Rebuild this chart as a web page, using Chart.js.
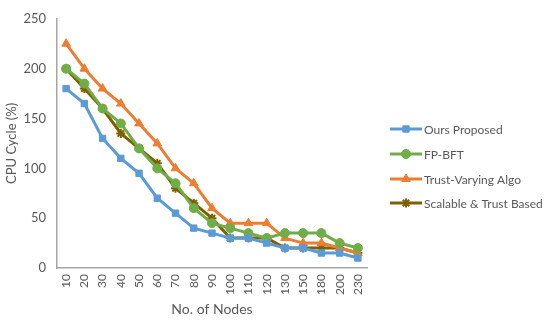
<!DOCTYPE html>
<html lang="en">
<head>
  <meta charset="UTF-8">
  <title>CPU Cycle vs Nodes</title>
  <script src="https://cdn.jsdelivr.net/npm/chart.js"></script>
  <style>
    body { margin: 0; background: #fff; }
    #wrap { width: 550px; height: 322px; }
  </style>
</head>
<body>
  <div id="wrap"><canvas id="cpuChart" width="550" height="322"></canvas></div>

  <script>
    // data
    const nodes = ['10', '20', '30', '40', '50', '60', '70', '80', '90', '100', '110', '120', '130', '150', '180', '200', '230'];
    const oursProposed = [180, 165, 130, 110, 95, 70, 55, 40, 35, 30, 30, 25, 20, 20, 15, 15, 10];
    const fpBft = [200, 185, 160, 145, 120, 100, 85, 60, 45, 40, 35, 30, 35, 35, 35, 25, 20];
    const trustVarying = [225, 200, 180, 165, 145, 125, 100, 85, 60, 45, 45, 45, 30, 25, 25, 20, 15];
    const scalableTrust = [200, 180, 160, 135, 120, 105, 80, 65, 50, 30, 30, 30, 20, 20, 20, 20, 15];
    const yTicks = [0, 50, 100, 150, 200, 250];

    const textColor = '#595959';
    const fontFamily = 'Lato, "Noto Sans", sans-serif';

    function series(label, data, color, style, radius) {
      return {
        label: label,
        data: data,
        borderColor: color,
        backgroundColor: color,
        borderWidth: 3,
        pointStyle: style,
        pointRadius: radius,
        pointBorderWidth: style === 'star' ? 2 : 1,
        pointBorderColor: color,
        pointBackgroundColor: color,
        tension: 0
      };
    }

    // legend on the right: short line with the marker in the middle
    const sideLegend = {
      id: 'sideLegend',
      afterDraw(chart) {
        const ctx = chart.ctx;
        const x0 = 390, x1 = 422;
        const rows = [129, 154, 179, 203];
        chart.data.datasets.forEach((ds, i) => {
          const y = rows[i];
          ctx.save();
          ctx.strokeStyle = ds.borderColor;
          ctx.fillStyle = ds.backgroundColor;
          ctx.lineWidth = 3;
          ctx.beginPath();
          ctx.moveTo(x0, y);
          ctx.lineTo(x1, y);
          ctx.stroke();
          ctx.lineWidth = ds.pointBorderWidth;
          Chart.helpers.drawPoint(ctx, {
            pointStyle: ds.pointStyle,
            radius: ds.pointRadius,
            borderWidth: ds.pointBorderWidth
          }, (x0 + x1) / 2, y);
          ctx.fillStyle = textColor;
          ctx.font = '12px ' + fontFamily;
          ctx.textBaseline = 'middle';
          ctx.textAlign = 'left';
          ctx.fillText(ds.label, x1 + 2, y + 1);
          ctx.restore();
        });
      }
    };

    new Chart(document.getElementById('cpuChart'), {
      type: 'line',
      data: {
        labels: nodes,
        datasets: [
          series('Ours Proposed', oursProposed, '#5B9BD5', 'rect', 4.5),
          series('FP-BFT', fpBft, '#70AD47', 'circle', 4.5),
          series('Trust-Varying Algo', trustVarying, '#ED7D31', 'triangle', 5),
          series('Scalable & Trust Based', scalableTrust, '#7F6000', 'star', 4.5)
        ]
      },
      options: {
        responsive: false,
        animation: false,
        layout: { padding: { top: 12, right: 183, left: 0, bottom: 0 } },
        plugins: {
          legend: { display: false },
          tooltip: { enabled: false }
        },
        scales: {
          x: {
            offset: true,
            grid: { display: false, drawTicks: false },
            border: { color: '#a6a6a6', width: 1.5 },
            ticks: {
              color: textColor,
              font: { family: fontFamily, size: 12 },
              minRotation: 90,
              maxRotation: 90,
              autoSkip: false,
              padding: 6
            },
            title: {
              display: true,
              text: 'No. of Nodes',
              color: textColor,
              font: { family: fontFamily, size: 14 },
              padding: { top: 4 }
            },
            afterFit(scale) { scale.height = 54; }
          },
          y: {
            min: 0,
            max: 250,
            afterBuildTicks(scale) { scale.ticks = yTicks.map(v => ({ value: v })); },
            grid: { display: false, drawTicks: false },
            border: { color: '#a6a6a6', width: 1.5 },
            ticks: {
              color: textColor,
              font: { family: fontFamily, size: 13 },
              padding: 11
            },
            title: {
              display: true,
              text: 'CPU Cycle (%)',
              color: textColor,
              font: { family: fontFamily, size: 13 },
              padding: { bottom: 4 }
            },
            afterFit(scale) { scale.width = 57; }
          }
        }
      },
      plugins: [sideLegend]
    });
  </script>
</body>
</html>
